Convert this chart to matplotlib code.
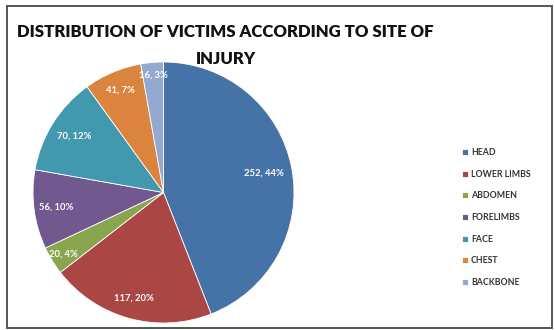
import numpy as np
import matplotlib.pyplot as plt
from matplotlib.patches import Rectangle

plt.rcParams['font.family'] = ['Lato', 'DejaVu Sans']

sites = ['HEAD', 'LOWER LIMBS', 'ABDOMEN', 'FORELIMBS', 'FACE', 'CHEST', 'BACKBONE']
victims = [252, 117, 20, 56, 70, 41, 16]
percents = [44, 20, 4, 10, 12, 7, 3]
colors = ['#4572A7', '#AA4643', '#89A54E', '#71588F', '#4198AF', '#DB843D', '#93A9CF']
# radial position of each data label (fraction of radius)
label_r = [0.78, 0.84, 0.90, 0.83, 0.81, 0.85, 0.90]

W, H = 555, 330
fig = plt.figure(figsize=(W / 100, H / 100), dpi=100)

# pie area in pixels: centre (163.5, 137.5), radius 130.5
cx, cy, r = 163.5, 137.5, 130.5
ax = fig.add_axes([(cx - r) / W, (cy - r) / H, 2 * r / W, 2 * r / H])
wedges, _ = ax.pie(victims, colors=colors, startangle=90, counterclock=False,
                   wedgeprops=dict(edgecolor='white', linewidth=0.6))
ax.set_xlim(-1, 1)
ax.set_ylim(-1, 1)
ax.set_aspect('auto')
ax.axis('off')

for w, v, p, lr in zip(wedges, victims, percents, label_r):
    ang = np.deg2rad((w.theta1 + w.theta2) / 2)
    ax.text(lr * np.cos(ang), lr * np.sin(ang), f'{v}, {p}%',
            ha='center', va='center', color='white', fontsize=6.8, fontweight='bold')

# two-line title
fig.text(225 / W, 1 - 32 / H, 'DISTRIBUTION OF VICTIMS ACCORDING TO SITE OF',
         ha='center', va='center', fontsize=12.1, fontweight='heavy', color='#111111')
fig.text(226 / W, 1 - 59 / H, 'INJURY',
         ha='center', va='center', fontsize=12.1, fontweight='heavy', color='#111111')

fig.legend(wedges, sites, loc='upper left', bbox_to_anchor=(462 / W, 1 - 148 / H),
           frameon=False, handlelength=0.7, handleheight=0.7,
           handletextpad=0.3, labelspacing=1.45, borderpad=0, borderaxespad=0,
           prop=dict(size=6.3, weight='bold'))
for t in fig.legends[0].get_texts():
    t.set_color('#333333')

# chart frame
fig.patches.append(Rectangle((7 / W, 2 / H), 545 / W, 322 / H, transform=fig.transFigure,
                             fill=False, edgecolor='#555555', linewidth=1.4))

fig.savefig('out.png', dpi=100)
